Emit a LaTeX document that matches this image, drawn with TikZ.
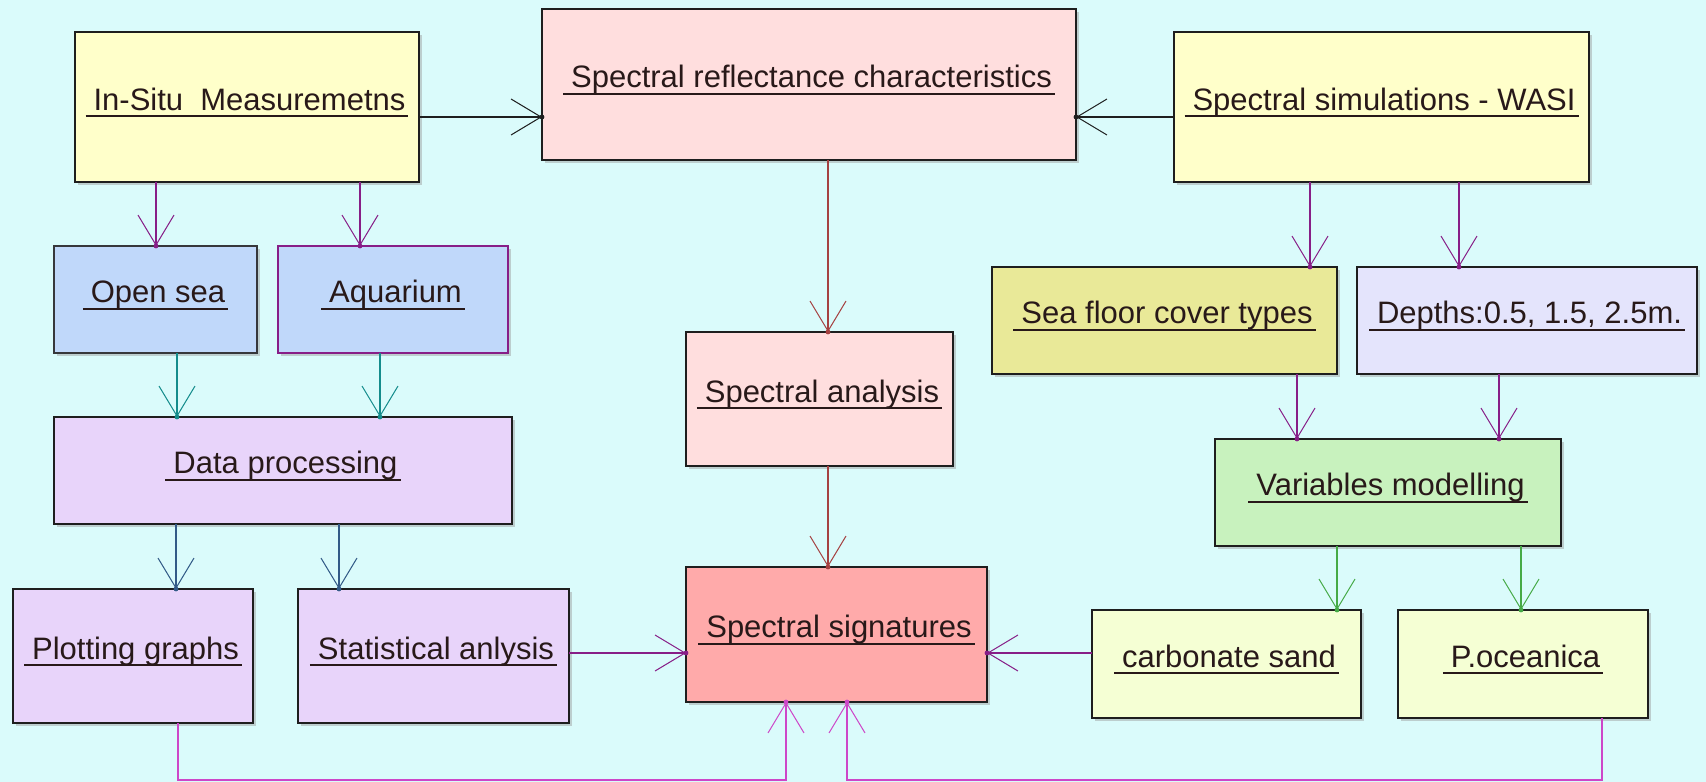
\documentclass[tikz,border=0pt]{standalone}
\usepackage{fontspec}
\setmainfont{Liberation Sans}
\usetikzlibrary{arrows.meta,shadows,decorations.markings}

\definecolor{bgcol}{RGB}{218,251,251}
\definecolor{yellowbox}{RGB}{255,255,202}
\definecolor{pinkbox}{RGB}{255,222,222}
\definecolor{bluebox}{RGB}{192,216,250}
\definecolor{lilacbox}{RGB}{232,212,250}
\definecolor{khakibox}{RGB}{233,233,152}
\definecolor{depthbox}{RGB}{228,228,252}
\definecolor{greenbox}{RGB}{200,242,190}
\definecolor{sigbox}{RGB}{255,170,170}
\definecolor{paleybox}{RGB}{245,255,212}
\definecolor{boxline}{RGB}{30,30,30}
\definecolor{txtcol}{RGB}{40,25,25}
\definecolor{purpleline}{RGB}{135,30,135}
\definecolor{magline}{RGB}{205,70,200}
\definecolor{tealline}{RGB}{20,140,140}
\definecolor{steelline}{RGB}{50,90,135}
\definecolor{brownline}{RGB}{165,65,65}
\definecolor{greenline}{RGB}{70,170,70}

% underlined label with a leading space, as in the original
\newcommand{\ulbl}[1]{\setbox0=\hbox{\hspace{8pt}#1\hspace{3pt}}\rlap{\rule[-7pt]{\wd0}{2pt}}\box0}

\tikzset{
  box/.style={draw=boxline, line width=2.2pt, inner sep=0pt, outer sep=0pt,
    text height=24pt, text depth=18pt, text=txtcol,
    drop shadow={shadow xshift=2.5pt, shadow yshift=-2.5pt, fill=black!40, opacity=.45}},
  link/.style={line width=1.5pt, -{Straight Barb[length=30pt,width=36pt,line width=1pt]},
    decoration={markings, mark=at position 1 with {\fill (0,0) circle (2.4pt);}},
    postaction=decorate},
}

\begin{document}
\begin{tikzpicture}[x=1pt, y=-1pt, font=\fontsize{31pt}{36pt}\selectfont]
      \fill[bgcol] (0,0) rectangle (1706,782);
      \useasboundingbox (0,0) rectangle (1706,782);

      % top row
      \node[box, fill=yellowbox, minimum width=344pt, minimum height=150pt] (insitu) at (247,107){\ulbl{In-Situ\ \ Measuremetns}};
      \node[box, fill=pinkbox, minimum width=534pt, minimum height=151pt] (refl) at (809,84.5){\ulbl{Spectral reflectance characteristics}};
      \node[box, fill=yellowbox, minimum width=415pt, minimum height=150pt] (wasi) at (1381.5,107){\ulbl{Spectral simulations - WASI}};

      % second row
      \node[box, fill=bluebox, draw=black!70!cyan!40!black, minimum width=203pt, minimum height=107pt] (opensea) at (155.5,299.5){\ulbl{Open sea}};
      \node[box, fill=bluebox, draw=purpleline, minimum width=230pt, minimum height=107pt] (aquarium) at (393,299.5){\ulbl{Aquarium}};
      \node[box, fill=pinkbox, minimum width=267pt, minimum height=134pt] (analysis) at (819.5,399){\ulbl{Spectral analysis}};
      \node[box, fill=khakibox, minimum width=345pt, minimum height=107pt] (seafloor) at (1164.5,320.5){\ulbl{Sea floor cover types}};
      \node[box, fill=depthbox, minimum width=340pt, minimum height=107pt] (depths) at (1527,320.5){\ulbl{Depths:0.5, 1.5, 2.5m.}};

      % third row
      \node[box, fill=lilacbox, minimum width=458pt, minimum height=107pt] (dataproc) at (283,470.5){\ulbl{Data processing}};
      \node[box, fill=greenbox, minimum width=346pt, minimum height=107pt] (variables) at (1388,492.5){\ulbl{Variables modelling}};

      % bottom row
      \node[box, fill=lilacbox, minimum width=240pt, minimum height=134pt] (plotting) at (133,656){\ulbl{Plotting graphs}};
      \node[box, fill=lilacbox, minimum width=271pt, minimum height=134pt] (stats) at (433.5,656){\ulbl{Statistical anlysis}};
      \node[box, fill=sigbox, minimum width=301pt, minimum height=135pt] (signatures) at (836.5,634.5){\ulbl{Spectral signatures}};
      \node[box, fill=paleybox, minimum width=269pt, minimum height=108pt] (carbonate) at (1226.5,664){\ulbl{carbonate sand}};
      \node[box, fill=paleybox, minimum width=250pt, minimum height=108pt] (poceanica) at (1523,664){\ulbl{P.oceanica}};

      % connectors
      \draw[link, boxline](insitu.east |- 0,117) to (refl.west |- 0,117);
      \draw[link, boxline](wasi.west |- 0,117) to (refl.east |- 0,117);

      \draw[link, purpleline](insitu.south -| 156,0) to (opensea.north -| 156,0);
      \draw[link, purpleline](insitu.south -| 360,0) to (aquarium.north -| 360,0);
      \draw[link, tealline](opensea.south -| 177,0) to (dataproc.north -| 177,0);
      \draw[link, tealline](aquarium.south -| 380,0) to (dataproc.north -| 380,0);
      \draw[link, steelline](dataproc.south -| 176,0) to (plotting.north -| 176,0);
      \draw[link, steelline](dataproc.south -| 339,0) to (stats.north -| 339,0);

      \draw[link, brownline, line width=1.2pt](refl.south -| 828,0) to (analysis.north -| 828,0);
      \draw[link, brownline, line width=1.2pt](analysis.south -| 828,0) to (signatures.north -| 828,0);

      \draw[link, purpleline](wasi.south -| 1310,0) to (seafloor.north -| 1310,0);
      \draw[link, purpleline](wasi.south -| 1459,0) to (depths.north -| 1459,0);
      \draw[link, purpleline](seafloor.south -| 1297,0) to (variables.north -| 1297,0);
      \draw[link, purpleline](depths.south -| 1499,0) to (variables.north -| 1499,0);
      \draw[link, greenline, line width=1.2pt](variables.south -| 1337,0) to (carbonate.north -| 1337,0);
      \draw[link, greenline, line width=1.2pt](variables.south -| 1521,0) to (poceanica.north -| 1521,0);

      \draw[link, purpleline](stats.east |- 0,653) to (signatures.west |- 0,653);
      \draw[link, purpleline](carbonate.west |- 0,653) to (signatures.east |- 0,653);

      \draw[link, magline](plotting.south -| 178,0) |- (786,780) to (signatures.south -| 786,0);
      \draw[link, magline](poceanica.south -| 1602,0) |- (847,780) to (signatures.south -| 847,0);
\end{tikzpicture}
\end{document}
